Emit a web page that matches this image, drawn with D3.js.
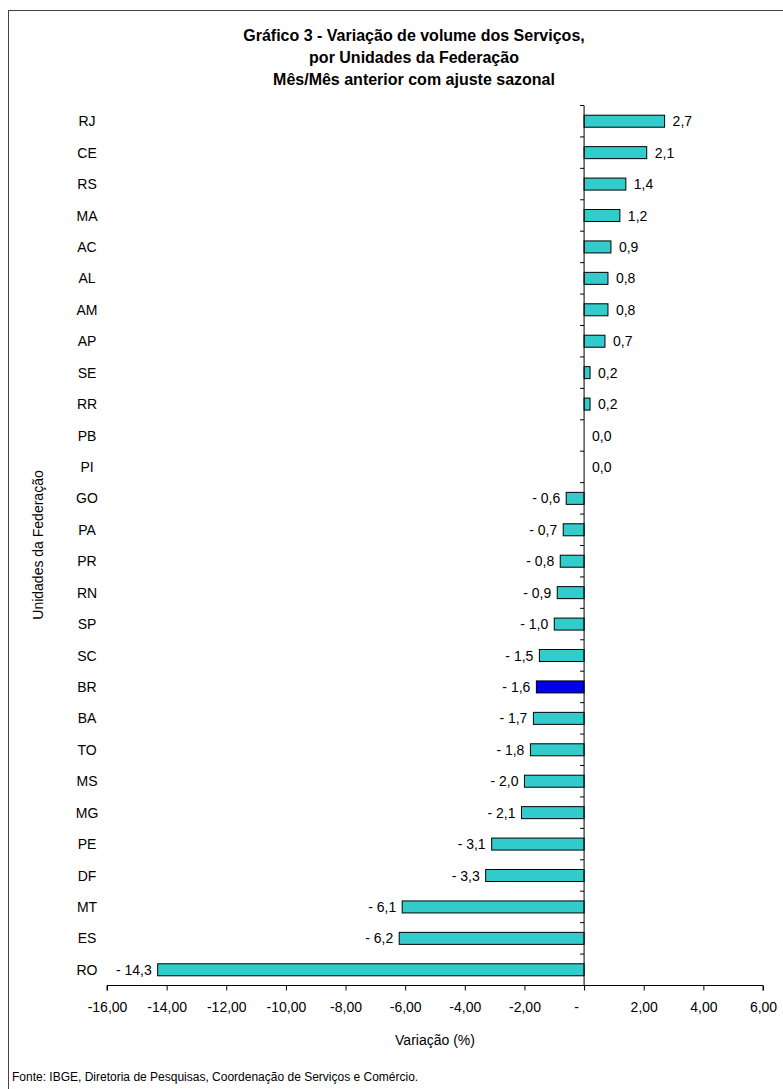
<!DOCTYPE html>
<html><head><meta charset="utf-8">
<script src="https://cdn.jsdelivr.net/npm/d3@7"></script>
<style>
body{margin:0;background:#fff;}
text{font-family:"Liberation Sans Narrow","Liberation Sans",Arial,sans-serif;}
</style></head><body>
<svg id="chart" width="783" height="1089"></svg>
<script>
var states = ["RJ","CE","RS","MA","AC","AL","AM","AP","SE","RR","PB","PI","GO","PA","PR","RN","SP","SC","BR","BA","TO","MS","MG","PE","DF","MT","ES","RO"];
var values = [2.7,2.1,1.4,1.2,0.9,0.8,0.8,0.7,0.2,0.2,0.0,0.0,-0.6,-0.7,-0.8,-0.9,-1.0,-1.5,-1.6,-1.7,-1.8,-2.0,-2.1,-3.1,-3.3,-6.1,-6.2,-14.3];
var xTicks = [-16,-14,-12,-10,-8,-6,-4,-2,0,2,4,6];

var svg = d3.select("#chart");
svg.append("rect").attr("x",8.5).attr("y",10.5).attr("width",790).attr("height",1100)
  .attr("fill","none").attr("stroke","#444").attr("stroke-width",1);

var x = d3.scaleLinear().domain([-16,6]).range([107,763]);
var y = d3.scaleBand().domain(states).range([105.5,985.5]);

var fmt = function(v){ return v.toFixed(2).replace(".",","); };
var fmt1 = function(v){ return v < 0 ? "- " + Math.abs(v).toFixed(1).replace(".",",") : v.toFixed(1).replace(".",","); };

// title
["Gráfico 3 - Variação de volume dos Serviços,","por Unidades da Federação","Mês/Mês anterior com ajuste sazonal"].forEach(function(t,i){
  svg.append("text").attr("x",414).attr("y",41+i*22).attr("text-anchor","middle")
    .attr("font-size",16).attr("font-weight","bold").text(t);
});

// bars
var bh = 12;
svg.selectAll(".bar").data(states).enter().append("rect")
  .attr("x", function(d,i){ return x(Math.min(0,values[i])); })
  .attr("y", function(d){ return y(d) + y.bandwidth()/2 - bh/2; })
  .attr("width", function(d,i){ return Math.abs(x(values[i]) - x(0)); })
  .attr("height", bh)
  .attr("fill", function(d){ return d === "BR" ? "#0000ee" : "#33cccc"; })
  .attr("stroke","#000").attr("stroke-width",1);

svg.selectAll(".val").data(states).enter().append("text")
  .attr("x", function(d,i){ return values[i] < 0 ? x(values[i]) - 6 : x(values[i]) + 8; })
  .attr("y", function(d){ return y(d) + y.bandwidth()/2 + 5; })
  .attr("text-anchor", function(d,i){ return values[i] < 0 ? "end" : "start"; })
  .attr("font-size",14).text(function(d,i){ return fmt1(values[i]); });

// category labels
svg.selectAll(".cat").data(states).enter().append("text")
  .attr("x",87).attr("y", function(d){ return y(d) + y.bandwidth()/2 + 5; })
  .attr("text-anchor","middle").attr("font-size",14).text(function(d){ return d; });

// zero line with ticks at band edges
var edges = states.map(function(d){ return y(d); }).concat([y.range()[1]]);
svg.append("line").attr("x1",x(0)).attr("x2",x(0)).attr("y1",y.range()[0]).attr("y2",y.range()[1]).attr("stroke","#000");
svg.selectAll(".ytick").data(edges).enter().append("line")
  .attr("x1",x(0)-4).attr("x2",x(0)).attr("y1",function(d){return d;}).attr("y2",function(d){return d;}).attr("stroke","#000");

// x axis
var xAxis = d3.axisBottom(x).tickValues(xTicks).tickSize(5)
  .tickFormat(function(d){ return d === 0 ? "-" : fmt(d); });
var gx = svg.append("g").attr("transform","translate(0," + y.range()[1] + ")").call(xAxis);
gx.select(".domain").attr("d","M" + x(-16) + ",5V0H" + x(6) + "V5");
gx.selectAll("text").attr("font-size",14).attr("dy","1.35em").attr("font-family",null);
gx.selectAll(".tick text").filter(function(d){ return d === 0; }).attr("dx",-8);

svg.append("text").attr("x",435).attr("y",1045).attr("text-anchor","middle").attr("font-size",14)
  .attr("font-family","Liberation Sans, Arial, sans-serif").text("Variação (%)");
svg.append("text").attr("transform","translate(43,545) rotate(-90)").attr("text-anchor","middle")
  .attr("font-size",14).attr("font-family","Liberation Sans, Arial, sans-serif").text("Unidades da Federação");
svg.append("text").attr("x",12).attr("y",1081).attr("font-size",12)
  .attr("font-family","Liberation Sans, Arial, sans-serif").text("Fonte: IBGE, Diretoria de Pesquisas, Coordenação de Serviços e Comércio.");
</script></body></html>
